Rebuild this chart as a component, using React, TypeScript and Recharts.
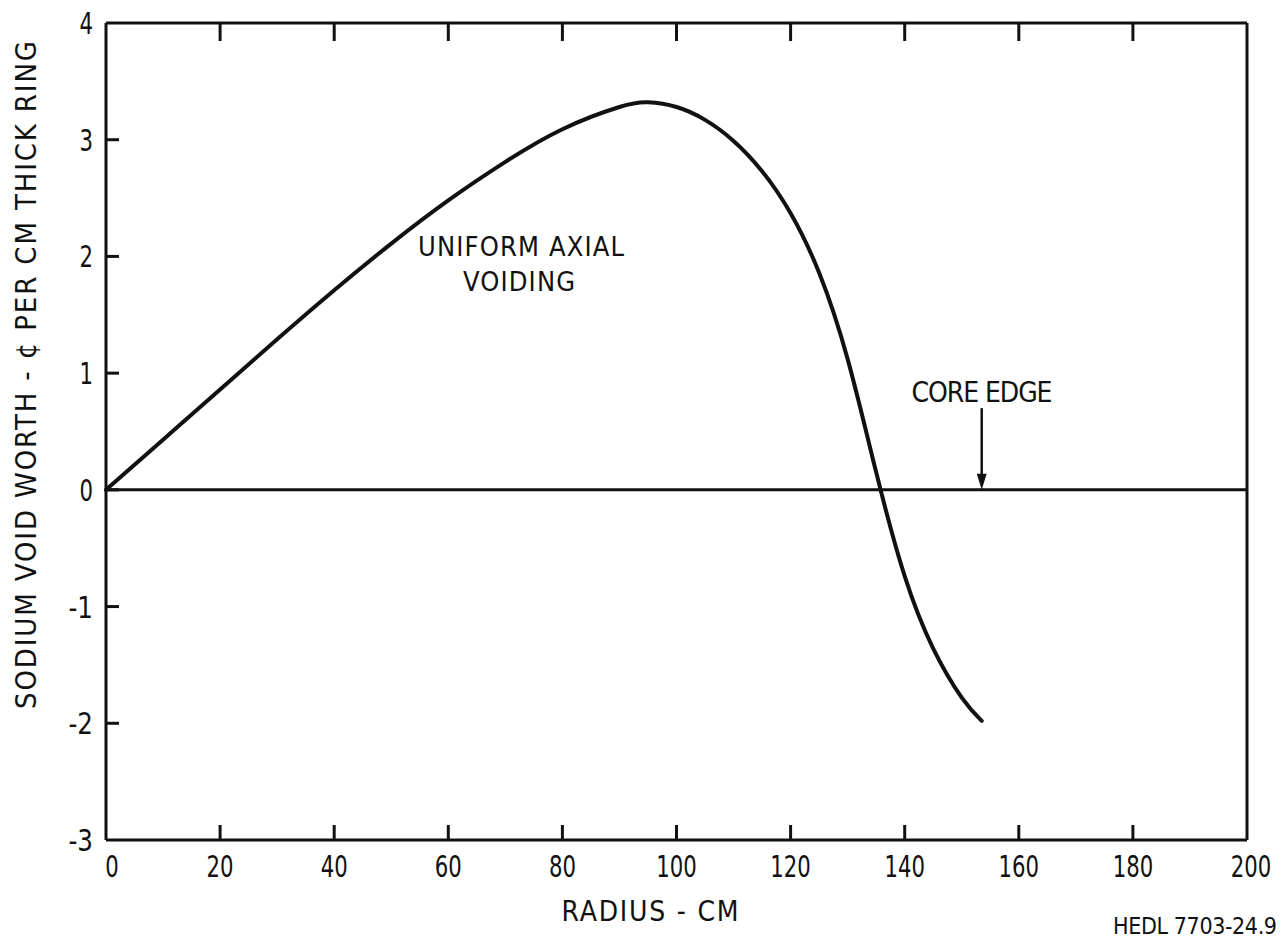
import { LineChart, Line, XAxis, YAxis, ReferenceLine } from "recharts";

// radius (cm) vs sodium void worth (cents per cm thick ring)
const radius = [0, 10, 20, 30, 40, 50, 60, 70, 80, 90, 95, 100, 105, 110, 115, 120, 125, 130, 135, 140, 145, 150, 153.5];
const worth = [0, 0.43, 0.86, 1.29, 1.71, 2.11, 2.48, 2.81, 3.09, 3.28, 3.32, 3.28, 3.17, 2.99, 2.73, 2.37, 1.86, 1.12, 0.15, -0.74, -1.36, -1.78, -1.98];

const xTicks = [0, 20, 40, 60, 80, 100, 120, 140, 160, 180, 200];
const yTicks = [-3, -2, -1, 0, 1, 2, 3, 4];

const coreEdge = 153.5;
const arrowTop = 0.7;

const data = radius.map((r, i) => ({ r, v: worth[i] }));

const FONT = "'DejaVu Sans Condensed', 'DejaVu Sans', sans-serif";
const INK = "#111";

// the svg covers the whole page (body margin is pulled back below)
const W = 1284;
const H = 940;

// rough width of a tick label in the narrow lettering of the scan
const labelWidth = (s: string) => s.split("").reduce((w, c) => w + (c === "-" ? 11 : 13.5), 0);

function BottomTick({ x, y, payload }: any) {
    const v = payload.value;
    const inner = v !== 0 && v !== 200;
    const s = String(v);
    return (
        <g>
            {inner && <line x1={x} y1={y} x2={x} y2={y - 15} stroke={INK} strokeWidth={3} />}
            <text
                x={x + (v === 0 ? 6 : v === 200 ? 4 : 0)}
                y={y + 37}
                textAnchor="middle"
                fontSize={30}
                fontFamily={FONT}
                fill={INK}
                textLength={labelWidth(s)}
                lengthAdjust="spacingAndGlyphs"
            >
                {s}
            </text>
        </g>
    );
}

function TopTick({ x, y, payload }: any) {
    const v = payload.value;
    if (v === 0 || v === 200) return <g />;
    return <line x1={x} y1={y} x2={x} y2={y + 18} stroke={INK} strokeWidth={3} />;
}

function LeftTick({ x, y, payload }: any) {
    const v = payload.value;
    const inner = v !== -3 && v !== 4;
    const s = String(v);
    return (
        <g>
            {inner && <line x1={x} y1={y} x2={x + 13} y2={y} stroke={INK} strokeWidth={3} />}
            <text
                x={x - 13}
                y={y + 11}
                textAnchor="end"
                fontSize={30}
                fontFamily={FONT}
                fill={INK}
                textLength={labelWidth(s)}
                lengthAdjust="spacingAndGlyphs"
            >
                {s}
            </text>
        </g>
    );
}

function RightTick({ x, y, payload }: any) {
    const v = payload.value;
    if (v === -3 || v === 4) return <g />;
    return <line x1={x} y1={y} x2={x - 15} y2={y} stroke={INK} strokeWidth={3} />;
}

function Arrow(props: any) {
    const { x1, y1, x2, y2 } = props;
    return (
        <g>
            <line x1={x1} y1={y1} x2={x2} y2={y2 - 10} stroke={INK} strokeWidth={2.5} />
            <polygon points={`${x2 - 5},${y2 - 16} ${x2 + 5},${y2 - 16} ${x2},${y2}`} fill={INK} />
        </g>
    );
}

export default function App() {
    return (
        <div style={{ position: "relative", width: W, height: H, margin: "-8px 0 0 -8px", background: "#fff" }}>
            <LineChart width={W} height={H} data={data} margin={{ top: 22, right: 36, left: 46, bottom: 60 }}>
                <XAxis
                    dataKey="r"
                    type="number"
                    domain={[0, 200]}
                    ticks={xTicks}
                    height={40}
                    tickSize={0}
                    tickMargin={0}
                    tickLine={false}
                    axisLine={{ stroke: INK, strokeWidth: 3 }}
                    tick={<BottomTick />}
                    interval={0}
                />
                <XAxis
                    xAxisId="top"
                    orientation="top"
                    dataKey="r"
                    type="number"
                    domain={[0, 200]}
                    ticks={xTicks}
                    height={1}
                    tickSize={0}
                    tickMargin={0}
                    tickLine={false}
                    axisLine={{ stroke: INK, strokeWidth: 3 }}
                    tick={<TopTick />}
                    interval={0}
                />
                <YAxis
                    type="number"
                    domain={[-3, 4]}
                    ticks={yTicks}
                    width={60}
                    tickSize={0}
                    tickMargin={0}
                    tickLine={false}
                    axisLine={{ stroke: INK, strokeWidth: 3 }}
                    tick={<LeftTick />}
                    interval={0}
                />
                <YAxis
                    yAxisId="right"
                    orientation="right"
                    type="number"
                    domain={[-3, 4]}
                    ticks={yTicks}
                    width={1}
                    tickSize={0}
                    tickMargin={0}
                    tickLine={false}
                    axisLine={{ stroke: INK, strokeWidth: 3 }}
                    tick={<RightTick />}
                    interval={0}
                />
                <ReferenceLine y={0} stroke={INK} strokeWidth={3} />
                <ReferenceLine
                    segment={[
                        { x: coreEdge, y: arrowTop },
                        { x: coreEdge, y: 0 },
                    ]}
                    shape={Arrow}
                />
                <Line
                    type="natural"
                    dataKey="v"
                    stroke={INK}
                    strokeWidth={4}
                    strokeLinejoin="round"
                    strokeLinecap="round"
                    dot={false}
                    isAnimationActive={false}
                />
            </LineChart>
            <svg width={W} height={H} style={{ position: "absolute", left: 0, top: 0, pointerEvents: "none" }}>
                <g fontFamily={FONT} fill={INK}>
                    <text
                        x={36}
                        y={375}
                        transform="rotate(-90, 36, 375)"
                        textAnchor="middle"
                        fontSize={29}
                        textLength={668}
                        lengthAdjust="spacing"
                    >
                        SODIUM VOID WORTH - ¢ PER CM THICK RING
                    </text>
                    <text x={650} y={921} textAnchor="middle" fontSize={28} textLength={177} lengthAdjust="spacing">
                        RADIUS - CM
                    </text>
                    <text x={1195} y={934} textAnchor="middle" fontSize={23} textLength={164} lengthAdjust="spacing">
                        HEDL 7703-24.9
                    </text>
                    <text x={521} y={256} textAnchor="middle" fontSize={27} textLength={206} lengthAdjust="spacing">
                        UNIFORM AXIAL
                    </text>
                    <text x={519} y={291} textAnchor="middle" fontSize={27} textLength={112} lengthAdjust="spacing">
                        VOIDING
                    </text>
                    <text x={982} y={402} textAnchor="middle" fontSize={28} textLength={141} lengthAdjust="spacing">
                        CORE EDGE
                    </text>
                </g>
            </svg>
        </div>
    );
}
